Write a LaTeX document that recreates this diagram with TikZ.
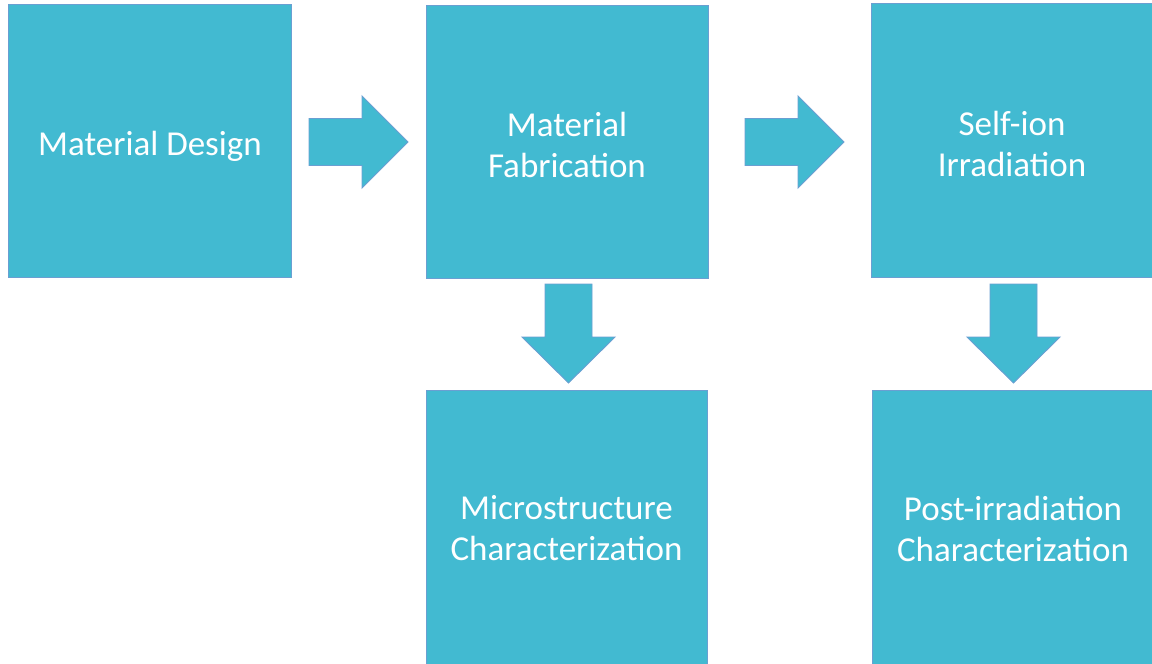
\documentclass[tikz,border=0pt]{standalone}
\usepackage{fontspec}
\setmainfont{Carlito}
\definecolor{boxfill}{HTML}{42BAD1}
\definecolor{boxline}{HTML}{6A9FD2}
\begin{document}
\begin{tikzpicture}[x=1pt,y=-1pt,
  stagebox/.style={draw=boxline, line width=0.9pt, fill=boxfill, text=white,
    inner sep=0pt, align=center,
    font=\fontsize{35}{41}\selectfont},
  blockarrow/.style={draw=boxline, line width=0.9pt, fill=boxfill},
  % block arrow pointing right, origin at the middle of its tail
  rightarrow/.pic={\draw[blockarrow] (0,-23.5) -- (53,-23.5) -- (53,-46) -- (99,0)
      -- (53,46) -- (53,23.5) -- (0,23.5) -- cycle;},
  % block arrow pointing down, origin at the middle of its tail
  downarrow/.pic={\draw[blockarrow] (-23.5,0) -- (23.5,0) -- (23.5,53) -- (46.5,53)
      -- (0,99) -- (-46.5,53) -- (-23.5,53) -- cycle;}]
  \useasboundingbox (0,0) rectangle (1152,664);
  \clip (0,0) rectangle (1152,664);
  \fill[white] (0,0) rectangle (1152,664);

  % process stages
  \node[stagebox, minimum width=283pt, minimum height=273pt, text depth=0pt] (design) at (149.5,140.5) {};
  \node[text=white, font=\fontsize{35}{41}\selectfont] (designlbl) at (150,146) {Material Design};
  \node[stagebox, minimum width=282pt, minimum height=273pt] (fab) at (567,141.5) {};
  \node[text=white, align=center, font=\fontsize{35}{41}\selectfont] (fablbl) at (567,145) {Material\\Fabrication};
  \node[stagebox, minimum width=284pt, minimum height=274pt] (irr) at (1013,140) {};
  \node[text=white, align=center, font=\fontsize{35}{41}\selectfont] (irrlbl) at (1012,143.5) {Self-ion\\Irradiation};
  \node[stagebox, minimum width=281pt, minimum height=277pt] (micro) at (566.5,528.5) {Microstructure\\Characterization};
  \node[stagebox, minimum width=282pt, minimum height=277pt] (post) at (1013,528.5) {Post-irradiation\\Characterization};

  % block arrows between stages
  \pic at (309,142) {rightarrow};
  \pic at (745,142) {rightarrow};
  \pic at (568.5,284) {downarrow};
  \pic at (1013.5,284) {downarrow};
\end{tikzpicture}
\end{document}
